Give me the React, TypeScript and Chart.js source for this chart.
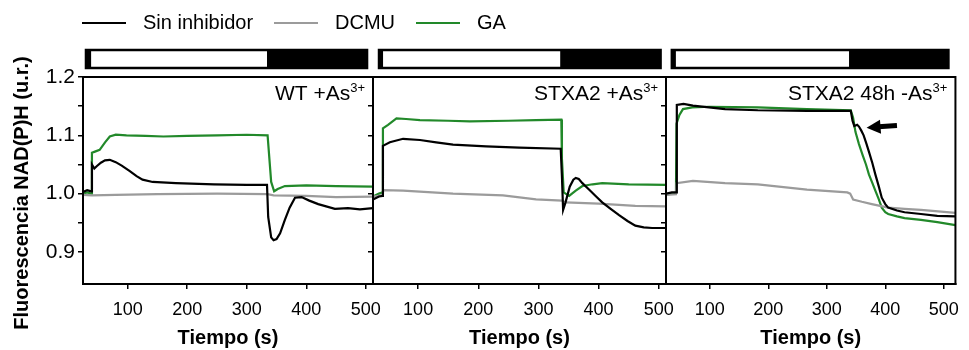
import React, { useEffect, useRef } from 'react';
import { Chart, registerables } from 'chart.js';

Chart.register(...registerables);

// ---------------- data ----------------
const seriesNames = ['Sin inhibidor', 'DCMU', 'GA'];
const seriesColors = ['#000000', '#9b9b9b', '#22892a'];
const xTickValues = [100, 200, 300, 400, 500];
const yTickValues = [0.9, 0.95, 1.0, 1.05, 1.1, 1.15, 1.2];
const yLabelValues = [0.9, 1.0, 1.1, 1.2];
const panelTitles = ['WT +As', 'STXA2 +As', 'STXA2 48h -As'];
const panelTitleSup = ['3+', '3+', '3+'];
const xMins = [25, 25, 25];
const xMaxes = [512, 512, 520];
const lightBarStart = [30, 35, 35];
const lightOn = [39, 42, 42];
const lightOff = [334, 336, 338];
const lightBarEnd = [502, 503, 508];
const arrowTip = [368, 1.113];
const arrowTail = [420, 1.117];

// Panel 1: WT +As3+
const p1SinX = [25, 32, 39, 40, 44, 48, 55, 62, 70, 80, 90, 103, 115, 125, 142, 181, 245, 300, 334, 336, 341, 345, 350, 356, 364, 372, 381, 392, 405, 420, 448, 470, 490, 512];
const p1SinY = [1.003, 1.006, 1.004, 1.05, 1.043, 1.047, 1.053, 1.057, 1.058, 1.054, 1.048, 1.039, 1.03, 1.024, 1.02, 1.018, 1.016, 1.015, 1.015, 0.96, 0.925, 0.92, 0.922, 0.932, 0.955, 0.976, 0.993, 0.994, 0.988, 0.982, 0.974, 0.975, 0.973, 0.975];
const p1DcmuX = [25, 40, 80, 150, 250, 335, 345, 400, 450, 512];
const p1DcmuY = [0.998, 0.997, 0.998, 0.999, 1.0, 0.999, 0.997, 0.996, 0.994, 0.995];
const p1GaX = [25, 32, 39, 40, 45, 53, 62, 70, 80, 98, 130, 160, 200, 250, 300, 335, 341, 346, 352, 364, 400, 450, 512];
const p1GaY = [1.0, 1.002, 1.0, 1.07, 1.072, 1.075, 1.088, 1.098, 1.101, 1.1, 1.099, 1.098, 1.099, 1.1, 1.101, 1.1, 1.02, 1.004, 1.008, 1.013, 1.014, 1.013, 1.012];

// Panel 2: STXA2 +As3+
const p2SinX = [25, 35, 41, 41.5, 53, 75, 103, 130, 158, 213, 268, 337, 339, 341, 345, 352, 358, 362, 367, 373, 384, 395, 406, 420, 434, 448, 461, 475, 489, 512];
const p2SinY = [0.99, 0.995, 0.996, 1.082, 1.088, 1.094, 1.092, 1.088, 1.084, 1.081, 1.079, 1.077, 1.03, 0.972, 0.985, 1.012, 1.024, 1.027, 1.025, 1.018, 1.007, 0.996, 0.985, 0.974, 0.963, 0.953, 0.945, 0.942, 0.941, 0.941];
const p2DcmuX = [25, 41, 42, 75, 158, 241, 296, 339, 345, 400, 461, 512];
const p2DcmuY = [0.995, 0.997, 1.006, 1.005, 1.0, 0.997, 0.99, 0.988, 0.985, 0.983, 0.979, 0.978];
const p2GaX = [25, 35, 41, 41.5, 50, 64, 80, 103, 150, 186, 250, 296, 338, 339, 342, 351, 362, 373, 390, 406, 450, 512];
const p2GaY = [0.995, 1.0, 1.002, 1.112, 1.118, 1.129, 1.128, 1.126, 1.125, 1.124, 1.125, 1.126, 1.127, 1.06, 1.002, 0.996, 1.005, 1.013, 1.016, 1.018, 1.016, 1.015];

// Panel 3: STXA2 48h -As3+
const p3SinX = [25, 35, 43, 43.5, 55, 71, 126, 182, 266, 341, 344, 347, 352, 355, 359, 363, 368, 372, 378, 383, 389, 394, 400, 405, 420, 433, 461, 489, 520];
const p3SinY = [1.0, 1.002, 1.002, 1.152, 1.154, 1.151, 1.145, 1.143, 1.142, 1.142, 1.125, 1.116, 1.118, 1.115, 1.108, 1.1, 1.085, 1.072, 1.052, 1.033, 1.012, 0.993, 0.982, 0.976, 0.971, 0.968, 0.965, 0.962, 0.961];
const p3DcmuX = [25, 42, 43, 71, 126, 182, 266, 335, 340, 345, 360, 377, 405, 433, 461, 520];
const p3DcmuY = [0.998, 0.999, 1.018, 1.022, 1.018, 1.016, 1.007, 1.002, 1.0, 0.99, 0.986, 0.982, 0.976, 0.974, 0.972, 0.967];
const p3GaX = [25, 35, 42, 43, 48, 54, 70, 99, 182, 266, 341, 345, 349, 355, 361, 367, 372, 378, 383, 389, 394, 400, 405, 420, 433, 461, 489, 520];
const p3GaY = [0.998, 1.0, 1.0, 1.12, 1.135, 1.145, 1.148, 1.149, 1.148, 1.145, 1.143, 1.13, 1.106, 1.085, 1.067, 1.05, 1.033, 1.018, 1.005, 0.99, 0.976, 0.968, 0.965, 0.961, 0.958, 0.955, 0.951, 0.946];

const panelSeries = [
  [[p1SinX, p1SinY], [p1DcmuX, p1DcmuY], [p1GaX, p1GaY]],
  [[p2SinX, p2SinY], [p2DcmuX, p2DcmuY], [p2GaX, p2GaY]],
  [[p3SinX, p3SinY], [p3DcmuX, p3DcmuY], [p3GaX, p3GaY]],
];

// ---------------- layout ----------------
const W = 969;
const H = 350;
const plotTop = 77;
const plotBottom = 284;
const panelEdges = [[83, 373], [373, 666], [666, 963]];
const SANS = "'Liberation Sans', Arial, sans-serif";

function makeConfig(i: number): any {
  const [left, right] = panelEdges[i];
  const yAxisWidth = i === 0 ? left : 6;
  const datasets = panelSeries[i].map(([xs, ys], k) => ({
    label: seriesNames[k],
    data: xs.map((x, j) => ({ x, y: ys[j] })),
    borderColor: seriesColors[k],
    backgroundColor: seriesColors[k],
    borderWidth: 2.2,
    pointRadius: 0,
    tension: 0,
    fill: false,
  }));

  const decor = {
    id: 'decor' + i,
    afterDraw(chart: any) {
      const { ctx, chartArea: a } = chart;
      const x = chart.scales.x;
      const y = chart.scales.y;
      ctx.save();
      // frame
      ctx.strokeStyle = '#000';
      ctx.lineWidth = 2;
      ctx.strokeRect(a.left, a.top, a.right - a.left, a.bottom - a.top);
      // light / dark bar
      const bx0 = x.getPixelForValue(lightBarStart[i]);
      const bOn = x.getPixelForValue(lightOn[i]);
      const bOff = x.getPixelForValue(lightOff[i]);
      const bx1 = x.getPixelForValue(lightBarEnd[i]);
      const by = 50;
      const bh = 18;
      ctx.fillStyle = '#000';
      ctx.fillRect(bx0, by, bOn - bx0, bh);
      ctx.fillRect(bOff, by, bx1 - bOff, bh);
      ctx.fillStyle = '#fff';
      ctx.fillRect(bOn, by, bOff - bOn, bh);
      ctx.lineWidth = 2.5;
      ctx.strokeRect(bx0, by, bx1 - bx0, bh);
      // panel title with superscript
      ctx.fillStyle = '#000';
      ctx.textBaseline = 'alphabetic';
      ctx.textAlign = 'left';
      ctx.font = `13px ${SANS}`;
      const supW = ctx.measureText(panelTitleSup[i]).width;
      ctx.font = `21px ${SANS}`;
      const mainW = ctx.measureText(panelTitles[i]).width;
      const xEnd = a.right - 8;
      ctx.fillText(panelTitles[i], xEnd - supW - mainW, 100);
      ctx.font = `13px ${SANS}`;
      ctx.fillText(panelTitleSup[i], xEnd - supW, 92);

      if (i === 0) {
        // legend
        const lx = [82, 274, 416];
        ctx.font = `20px ${SANS}`;
        ctx.textBaseline = 'middle';
        chart.data.datasets.forEach((ds: any, k: number) => {
          ctx.strokeStyle = ds.borderColor;
          ctx.lineWidth = 2;
          ctx.beginPath();
          ctx.moveTo(lx[k], 23);
          ctx.lineTo(lx[k] + 44, 23);
          ctx.stroke();
          ctx.fillStyle = '#000';
          ctx.fillText(ds.label, lx[k] + 61, 23);
        });
        // y-axis title
        ctx.save();
        ctx.translate(22, 193);
        ctx.rotate(-Math.PI / 2);
        ctx.textAlign = 'center';
        ctx.textBaseline = 'middle';
        ctx.font = `bold 20px ${SANS}`;
        ctx.fillStyle = '#000';
        ctx.fillText('Fluorescencia NAD(P)H (u.r.)', 0, 0);
        ctx.restore();
      }
      if (i === 2) {
        // arrow
        const tx = x.getPixelForValue(arrowTip[0]);
        const ty = y.getPixelForValue(arrowTip[1]);
        const sx = x.getPixelForValue(arrowTail[0]);
        const sy = y.getPixelForValue(arrowTail[1]);
        const dx = tx - sx;
        const dy = ty - sy;
        const len = Math.hypot(dx, dy);
        const ux = dx / len;
        const uy = dy / len;
        const headL = 14;
        const headW = 7;
        const hx = tx - ux * headL;
        const hy = ty - uy * headL;
        ctx.strokeStyle = '#000';
        ctx.lineWidth = 5;
        ctx.beginPath();
        ctx.moveTo(sx, sy);
        ctx.lineTo(hx + ux * 2, hy + uy * 2);
        ctx.stroke();
        ctx.fillStyle = '#000';
        ctx.beginPath();
        ctx.moveTo(tx, ty);
        ctx.lineTo(hx - uy * headW, hy + ux * headW);
        ctx.lineTo(hx + uy * headW, hy - ux * headW);
        ctx.closePath();
        ctx.fill();
      }
      ctx.restore();
    },
  };

  return {
    type: 'line',
    data: { datasets },
    plugins: [decor],
    options: {
      responsive: false,
      animation: false,
      events: [],
      layout: {
        padding: { left: left - yAxisWidth, right: W - right, top: plotTop, bottom: 0 },
      },
      plugins: { legend: { display: false }, tooltip: { enabled: false } },
      scales: {
        x: {
          type: 'linear',
          min: xMins[i],
          max: xMaxes[i],
          bounds: 'data',
          afterFit: (s: any) => {
            s.height = H - plotBottom;
          },
          afterBuildTicks: (s: any) => {
            s.ticks = xTickValues.map((v) => ({ value: v }));
          },
          ticks: {
            color: '#000',
            font: { family: SANS, size: 18 },
            padding: 10,
            maxRotation: 0,
            autoSkip: false,
            callback: (v: any) => String(v),
          },
          grid: { drawOnChartArea: false, drawTicks: true, tickLength: 5, color: '#000', lineWidth: 1.5 },
          border: { display: true, color: '#000', width: 2 },
          title: {
            display: true,
            text: 'Tiempo (s)',
            color: '#000',
            font: { family: SANS, size: 20, weight: 'bold', lineHeight: 1 },
            padding: { top: 0, bottom: 2 },
          },
        },
        y: {
          type: 'linear',
          min: 0.845,
          max: 1.2,
          bounds: 'data',
          afterFit: (s: any) => {
            s.width = yAxisWidth;
          },
          afterBuildTicks: (s: any) => {
            s.ticks = yTickValues.map((v) => ({ value: v }));
          },
          ticks: {
            color: '#000',
            font: { family: SANS, size: 21 },
            padding: 3,
            autoSkip: false,
            callback: (v: any) => {
              if (i !== 0) return '';
              return yLabelValues.some((l) => Math.abs(l - v) < 1e-6) ? Number(v).toFixed(1) : '';
            },
          },
          grid: { drawOnChartArea: false, drawTicks: true, tickLength: 5, color: '#000', lineWidth: 1.5 },
          border: { display: true, color: '#000', width: 2 },
        },
      },
    },
  };
}

export default function App() {
  const r0 = useRef<HTMLCanvasElement>(null);
  const r1 = useRef<HTMLCanvasElement>(null);
  const r2 = useRef<HTMLCanvasElement>(null);
  const refs = [r0, r1, r2];

  useEffect(() => {
    const charts = refs.map((r, i) => new Chart(r.current as HTMLCanvasElement, makeConfig(i)));
    return () => charts.forEach((c) => c.destroy());
  }, []);

  return (
    <div style={{ position: 'absolute', left: 0, top: 0, width: W, height: H, background: '#fff', overflow: 'hidden' }}>
      {refs.map((r, i) => (
        <canvas
          key={i}
          ref={r}
          width={W}
          height={H}
          style={{ position: 'absolute', left: 0, top: 0, width: W, height: H }}
        />
      ))}
    </div>
  );
}
